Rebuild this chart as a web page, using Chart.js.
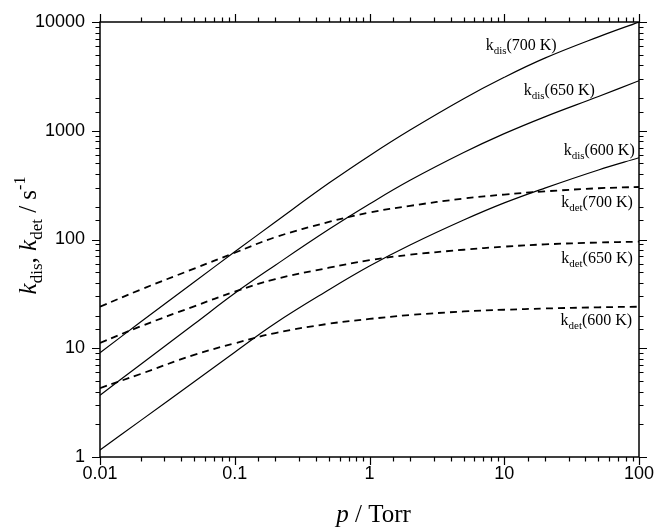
<!DOCTYPE html>
<html>
<head>
<meta charset="utf-8">
<script src="https://cdn.jsdelivr.net/npm/chart.js@4.4.1/dist/chart.umd.min.js"></script>
<style>
  html, body { margin: 0; padding: 0; background: #fff; }
  #wrap { width: 657px; height: 529px; }
</style>
</head>
<body>
<div id="wrap"><canvas id="rateChart"></canvas></div>
<script>
// pressure grid (Torr) and rate constants (s^-1)
const pressures = [0.01, 0.02, 0.05, 0.1, 0.2, 0.5, 1, 2, 5, 10, 20, 50, 100];
const kdis700 = [9.1, 17.4, 40.7, 77, 145, 330, 590, 1015, 1970, 3100, 4650, 7300, 10000];
const kdis650 = [3.7, 7.1, 16.7, 32, 58, 124, 212, 350, 630, 940, 1343, 2065, 2886];
const kdis600 = [1.16, 2.16, 4.93, 9.2, 17, 34.5, 57, 89, 151, 217, 297, 436, 565];
const kdet700 = [24.1, 34.6, 54, 75.5, 105, 145, 177, 204, 238, 259, 277, 296, 304];
const kdet650 = [11.2, 15.9, 24.3, 33.1, 43.2, 55, 64.6, 72.4, 80.5, 86, 90.2, 93.8, 95.5];
const kdet600 = [4.3, 5.8, 8.7, 11.1, 13.8, 16.8, 18.6, 20.2, 21.8, 22.6, 23.2, 23.8, 24.1];

const xRange = [0.01, 100];
const yRange = [1, 10000];

// curve labels, anchored (right edge, middle) in data units
const curveLabels = [
  { sub: "dis", temp: "700 K", p: 24.5, k: 6100 },
  { sub: "dis", temp: "650 K", p: 47, k: 2370 },
  { sub: "dis", temp: "600 K", p: 93, k: 665 },
  { sub: "det", temp: "700 K", p: 90, k: 222 },
  { sub: "det", temp: "650 K", p: 90, k: 68 },
  { sub: "det", temp: "600 K", p: 89, k: 18.2 },
];

const serif = '"Liberation Serif", "Times New Roman", serif';
const sans = '"Liberation Sans", Arial, sans-serif';

function isDecade(v) {
  const e = Math.log10(v);
  return Math.abs(e - Math.round(e)) < 1e-9;
}

function toPoints(values) {
  return pressures.map((p, i) => ({ x: p, y: values[i] }));
}

function solid(values) {
  return { data: toPoints(values), borderColor: "#000", borderWidth: 1.2,
    pointRadius: 0, fill: false, tension: 0.4 };
}

function dashed(values) {
  return { data: toPoints(values), borderColor: "#000", borderWidth: 1.8,
    borderDash: [7, 5], pointRadius: 0, fill: false, tension: 0.4 };
}

// draw a run of text pieces (font, vertical shift) starting at x on baseline y
function drawRich(ctx, parts, x, y, align) {
  let total = 0;
  parts.forEach((p) => { ctx.font = p.font; total += ctx.measureText(p.t).width; });
  let cx = align === "right" ? x - total : align === "center" ? x - total / 2 : x;
  ctx.textAlign = "left";
  ctx.textBaseline = "alphabetic";
  parts.forEach((p) => {
    ctx.font = p.font;
    ctx.fillText(p.t, cx, y + (p.dy || 0));
    cx += ctx.measureText(p.t).width;
  });
}

const framePlugin = {
  id: "framePlugin",
  afterDraw(chart) {
    const { ctx, chartArea: a, scales } = chart;
    ctx.save();
    ctx.strokeStyle = "#000";
    ctx.fillStyle = "#000";
    ctx.lineWidth = 1.5;
    ctx.strokeRect(a.left, a.top, a.right - a.left, a.bottom - a.top);

    ctx.lineWidth = 1.2;
    ctx.beginPath();
    scales.x.ticks.forEach((t) => {
      const px = Math.round(scales.x.getPixelForValue(t.value)) + 0.5;
      const len = isDecade(t.value) ? 8 : 4.5;
      ctx.moveTo(px, a.bottom); ctx.lineTo(px, a.bottom + len);
      ctx.moveTo(px, a.top); ctx.lineTo(px, a.top - len);
    });
    scales.y.ticks.forEach((t) => {
      const py = Math.round(scales.y.getPixelForValue(t.value)) + 0.5;
      const len = isDecade(t.value) ? 8 : 4.5;
      ctx.moveTo(a.left, py); ctx.lineTo(a.left - len, py);
      ctx.moveTo(a.right, py); ctx.lineTo(a.right + len, py);
    });
    ctx.stroke();

    // curve labels
    curveLabels.forEach((l) => {
      const x = scales.x.getPixelForValue(l.p);
      const y = scales.y.getPixelForValue(l.k) + 5;
      drawRich(ctx, [
        { t: "k", font: "16px " + serif },
        { t: l.sub, font: "11px " + serif, dy: 4 },
        { t: "(" + l.temp + ")", font: "16px " + serif },
      ], x, y, "right");
    });

    // x title
    const xc = (a.left + a.right) / 2 + 4;
    drawRich(ctx, [
      { t: "p", font: "italic 25px " + serif },
      { t: " / Torr", font: "25px " + serif },
    ], xc, 522, "center");

    // y title (rotated)
    ctx.translate(36, (a.top + a.bottom) / 2 - 4);
    ctx.rotate(-Math.PI / 2);
    drawRich(ctx, [
      { t: "k", font: "italic 25px " + serif },
      { t: "dis", font: "17px " + serif, dy: 6 },
      { t: ", ", font: "25px " + serif },
      { t: "k", font: "italic 25px " + serif },
      { t: "det", font: "17px " + serif, dy: 6 },
      { t: " / s", font: "25px " + serif },
      { t: "-1", font: "16px " + serif, dy: -11 },
    ], 0, 0, "center");
    ctx.restore();
  },
};

function axis(range, fitSize, isX) {
  return {
    type: "logarithmic",
    min: range[0],
    max: range[1],
    grid: { display: true, drawOnChartArea: false, drawTicks: true, tickLength: isX ? 5 : 8, color: "rgba(0,0,0,0)" },
    border: { display: false },
    ticks: {
      autoSkip: false,
      maxRotation: 0,
      padding: isX ? 1 : 7,
      color: "#000",
      font: { family: sans, size: 18 },
      callback: (v) => (isDecade(v) ? String(v) : ""),
    },
    afterFit(scale) {
      if (isX) scale.height = fitSize; else scale.width = fitSize;
    },
  };
}

new Chart(document.getElementById("rateChart"), {
  type: "line",
  data: {
    datasets: [
      solid(kdis700), solid(kdis650), solid(kdis600),
      dashed(kdet700), dashed(kdet650), dashed(kdet600),
    ],
  },
  options: {
    responsive: true,
    maintainAspectRatio: false,
    animation: false,
    layout: { padding: { left: 0, right: 18, top: 22, bottom: 0 } },
    plugins: { legend: { display: false }, tooltip: { enabled: false } },
    scales: {
      x: axis(xRange, 72, true),
      y: axis(yRange, 100, false),
    },
  },
  plugins: [framePlugin],
});
</script>
</body>
</html>
